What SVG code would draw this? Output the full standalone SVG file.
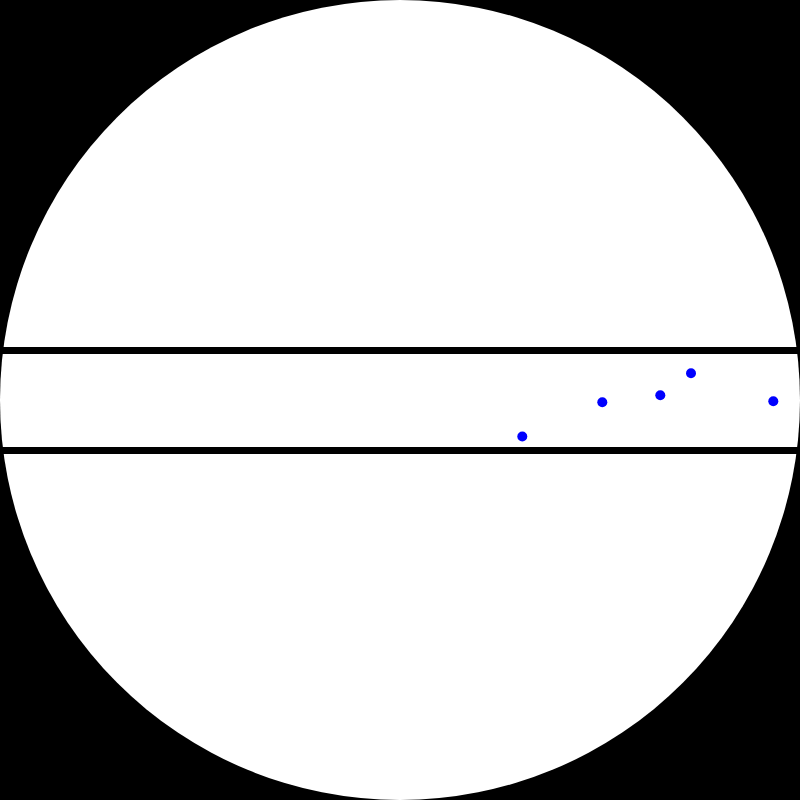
<svg xmlns="http://www.w3.org/2000/svg" width="800" height="800" viewBox="0 0 800 800">
<style>.line{stroke:#000;stroke-width:7}.dot{fill:#0000ff}</style>
<rect width="800" height="800" fill="#000"/>
<circle cx="400" cy="400" r="400" fill="#fff"/>
<g id="lines">
<line class="line" x1="0" y1="350.5" x2="800" y2="350.5"/>
<line class="line" x1="0" y1="450.5" x2="800" y2="450.5"/>
</g>
<g id="points">
<circle class="dot" cx="522.3" cy="436.5" r="5"/>
<circle class="dot" cx="602.3" cy="402.3" r="5"/>
<circle class="dot" cx="660.3" cy="395.3" r="5"/>
<circle class="dot" cx="691" cy="373.3" r="5"/>
<circle class="dot" cx="773.3" cy="401.3" r="5"/>
</g>
</svg>
